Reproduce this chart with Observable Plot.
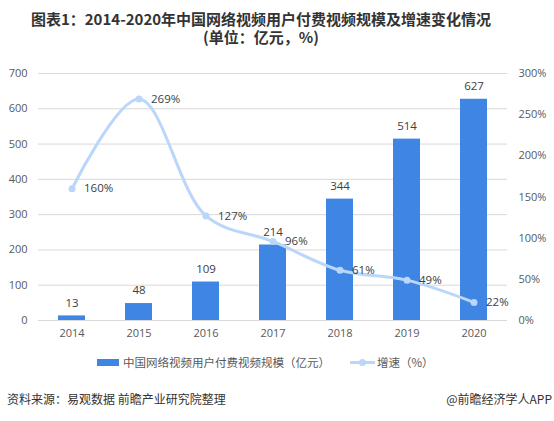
<!DOCTYPE html>
<html>
<head>
<meta charset="utf-8">
<script src="https://cdn.jsdelivr.net/npm/d3@7"></script>
<script src="https://cdn.jsdelivr.net/npm/@observablehq/plot@0.6"></script>
<style>
  body { margin: 0; background: #fff; font-family: "Noto Sans CJK SC", "Noto Sans", sans-serif; }
  #wrap { width: 554px; height: 421px; position: relative; overflow: hidden; }
  .title { position: absolute; left: 0; width: 522px; text-align: center; font-weight: bold; font-size: 15px; line-height: 18px; height: 18px; color: #333; white-space: nowrap; }
  #chart { position: absolute; left: 0; top: 58px; }
  #legend { position: absolute; top: 353px; left: 0; width: 554px; font-size: 11px; color: #595959; }
  .src { position: absolute; top: 390px; font-size: 12px; color: #333; }
</style>
</head>
<body>
<div id="wrap">
  <div class="title" style="top:10px">图表1：2014-2020年中国网络视频用户付费视频规模及增速变化情况</div>
  <div class="title" style="top:28px">(单位：亿元，%)</div>
  <div id="chart"></div>
  <div id="legend"></div>
  <div class="src" style="left:7px">资料来源：易观数据 前瞻产业研究院整理</div>
  <div class="src" style="right:2px">@前瞻经济学人APP</div>
</div>
<script>
const years = ["2014", "2015", "2016", "2017", "2018", "2019", "2020"];
const scale = [13, 48, 109, 214, 344, 514, 627];
const growth = [160, 269, 127, 96, 61, 49, 22];
const leftTicks = [0, 100, 200, 300, 400, 500, 600, 700];
const rightTicks = [0, 50, 100, 150, 200, 250, 300];
const seriesNames = ["中国网络视频用户付费视频规模（亿元）", "增速（%）"];

const barColor = "#3f85e3";
const lineColor = "#bad6fa";
const k = 700 / 300; // percent -> left-axis units

const rows = years.map((y, i) => ({ year: y, v: scale[i], g: growth[i], gv: growth[i] * k }));

const chart = Plot.plot({
  width: 554,
  height: 290,
  marginTop: 15,
  marginBottom: 28,
  marginLeft: 38,
  marginRight: 47,
  style: { fontFamily: "'Open Sans', 'Noto Sans', sans-serif", fontSize: "11px", color: "#595959" },
  x: { domain: years, paddingInner: 0.6, paddingOuter: 0.3, label: null },
  y: { domain: [0, 700], label: null },
  marks: [
    Plot.gridY(leftTicks, { stroke: "#d9d9d9", strokeOpacity: 1, strokeWidth: 1 }),
    Plot.axisY(leftTicks, { anchor: "left", tickSize: 0, tickPadding: 11, label: null, fill: "#595959" }),
    Plot.axisY(rightTicks.map(p => p * k), { anchor: "right", tickSize: 0, tickPadding: 11, label: null, fill: "#595959", tickFormat: d => Math.round(d / k) + "%", textAnchor: "start" }),
    Plot.axisX({ tickSize: 0, tickPadding: 9, label: null, fill: "#595959" }),
    Plot.barY(rows, { x: "year", y: "v", fill: barColor }),
    Plot.text(rows, { x: "year", y: "v", text: d => String(d.v), dy: -13, fill: "#404040", fontSize: 11.5 }),
    Plot.line(rows, { x: "year", y: "gv", stroke: lineColor, strokeWidth: 3, curve: "catmull-rom" }),
    Plot.dot(rows, { x: "year", y: "gv", r: 3.5, fill: lineColor }),
    Plot.text(rows, { x: "year", y: "gv", text: d => d.g + "%", dx: 12, textAnchor: "start", fill: "#404040", fontSize: 11.5 })
  ]
});
document.getElementById("chart").appendChild(chart);

// legend
const lg = d3.select("#legend").append("svg").attr("width", 554).attr("height", 20);
lg.append("rect").attr("x", 97).attr("y", 6).attr("width", 22).attr("height", 7).attr("fill", barColor);
lg.append("text").attr("x", 123).attr("y", 14).attr("font-size", 11.5).attr("fill", "#595959").text(seriesNames[0]);
lg.append("line").attr("x1", 350).attr("x2", 375).attr("y1", 9.5).attr("y2", 9.5).attr("stroke", lineColor).attr("stroke-width", 3);
lg.append("circle").attr("cx", 362.5).attr("cy", 9.5).attr("r", 3.5).attr("fill", lineColor);
lg.append("text").attr("x", 377).attr("y", 14).attr("font-size", 11.5).attr("fill", "#595959").text(seriesNames[1]);
</script>
</body>
</html>
